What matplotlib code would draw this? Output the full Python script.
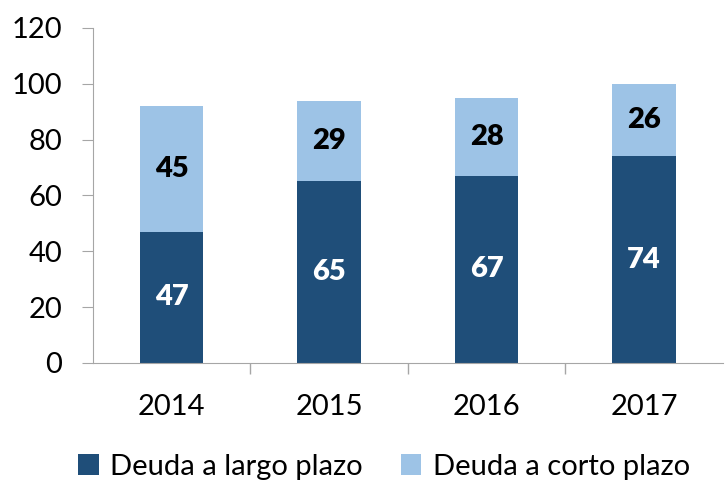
import numpy as np
import matplotlib
matplotlib.use('Agg')
import matplotlib.pyplot as plt

# Datos
anios = ['2014', '2015', '2016', '2017']
largo_plazo = [47, 65, 67, 74]
corto_plazo = [45, 29, 28, 26]

plt.rcParams['font.family'] = ['Lato', 'DejaVu Sans']

fig = plt.figure(figsize=(7.25, 4.82), dpi=100)
ax = fig.add_axes([0.128, 0.247, 0.869, 0.695])

x = np.arange(len(anios))
ancho = 0.405
oscuro = '#1f4e79'
claro = '#9dc3e6'
tam = 21

b1 = ax.bar(x, largo_plazo, ancho, color=oscuro, label='Deuda a largo plazo')
b2 = ax.bar(x, corto_plazo, ancho, bottom=largo_plazo, color=claro,
            label='Deuda a corto plazo')

# Etiquetas de valores
for xi, v in zip(x, largo_plazo):
    ax.text(xi, v / 2, str(v), ha='center', va='center', color='white',
            fontsize=tam, fontweight='heavy')
for xi, v, b in zip(x, corto_plazo, largo_plazo):
    ax.text(xi, b + v / 2, str(v), ha='center', va='center', color='black',
            fontsize=tam, fontweight='heavy')

# Formato de grafica
ax.set_xlim(-0.5, len(anios) - 0.5)
ax.set_ylim(0, 120)
ax.set_yticks(np.arange(0, 121, 20))
ax.tick_params(axis='y', labelsize=tam, length=8, color='#a6a6a6', pad=14)
ax.set_xticks(x)
ax.set_xticklabels(anios, fontsize=tam)
ax.tick_params(axis='x', length=0, pad=22)
ax.set_xticks(np.arange(0.5, len(anios) - 1, 1), minor=True)
ax.tick_params(axis='x', which='minor', length=8, color='#a6a6a6', width=1)

for lado in ['top', 'right']:
    ax.spines[lado].set_visible(False)
for lado in ['left', 'bottom']:
    ax.spines[lado].set_color('#a6a6a6')

fig.legend(handles=[b1, b2], loc='lower center', bbox_to_anchor=(0.53, -0.05),
           ncol=2, frameon=False, fontsize=tam, handlelength=0.7,
           handleheight=0.7, handletextpad=0.4, columnspacing=1.3)

fig.savefig('out.png', dpi=100)
